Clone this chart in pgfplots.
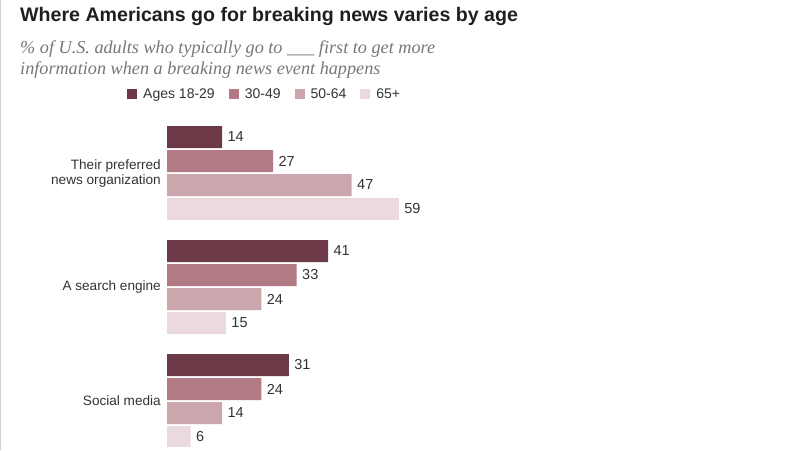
\documentclass[border=0pt]{standalone}
\usepackage{pgfplots}
\pgfplotsset{compat=1.18}
\usepackage{fontspec}
\setmainfont{Liberation Sans}
\newfontfamily\subfont{Liberation Serif}

\definecolor{ageA}{HTML}{6B3A46}
\definecolor{ageB}{HTML}{B27A84}
\definecolor{ageC}{HTML}{CBA7AD}
\definecolor{ageD}{HTML}{EBDADD}
\definecolor{txt}{HTML}{333333}
\definecolor{subtxt}{HTML}{777777}

\pgfplotsset{
  sq/.style={fill=#1, draw=none,
    legend image code/.code={\fill[##1,draw=none] (0pt,-5pt) rectangle (10pt,5pt);
      \path (14pt,0pt);}},
}

\begin{document}
\begin{tikzpicture}
\path[use as bounding box] (0pt,0pt) rectangle (790pt,450pt);
\draw[black!18, line width=1.2pt] (0.6pt,0pt) -- (0.6pt,450pt);

\node[anchor=base west, inner sep=0, text=black!88,
  font=\bfseries\fontsize{19.6}{22}\selectfont] at (20pt,428pt) {Where Americans go for breaking news varies by age};
\node[anchor=base west, inner sep=0, text=subtxt,
  font=\subfont\itshape\fontsize{18.2}{21}\selectfont] at (20pt,396.5pt) {\% of U.S. adults who typically go to \_\_\_ first to get more};
\node[anchor=base west, inner sep=0, text=subtxt,
  font=\subfont\itshape\fontsize{18.2}{21}\selectfont] at (20pt,375.5pt) {information when a breaking news event happens};

\begin{axis}[
  at={(167pt,3.4pt)}, anchor=south west,
  scale only axis, width=393pt, height=330.6pt,
  xbar, xmin=0, xmax=100,
  ymin=-0.5, ymax=2.4, y dir=reverse,
  bar width=22pt,
  axis line style={draw=none},
  major tick length=0pt,
  xtick=\empty,
  ytick={0,1,2},
  yticklabels={{Their preferred\\news organization},{A search engine},{Social media}},
  yticklabel style={align=right, text=txt, inner sep=0pt, xshift=-6pt,
    font=\fontsize{13.6}{15}\selectfont},
  /pgf/number format/assume math mode=true,
  nodes near coords,
  nodes near coords style={text=txt, font=\fontsize{14.5}{16}\selectfont, xshift=2pt},
  legend columns=4,
  legend style={draw=none, fill=none, inner sep=0pt,
    at={(axis description cs:-0.1018,1.066)}, anchor=west,
    font=\fontsize{14}{16}\selectfont, text=txt,
    /tikz/every even column/.append style={column sep=12pt}},
  legend cell align=left,
]
\addplot[sq=ageA, bar shift=36pt]  coordinates {(14,0) (41,1) (31,2)};
\addplot[sq=ageB, bar shift=12pt]  coordinates {(27,0) (33,1) (24,2)};
\addplot[sq=ageC, bar shift=-12pt] coordinates {(47,0) (24,1) (14,2)};
\addplot[sq=ageD, bar shift=-36pt] coordinates {(59,0) (15,1) (6,2)};
\legend{Ages 18-29, 30-49, 50-64, 65+}
\end{axis}
\end{tikzpicture}
\end{document}
